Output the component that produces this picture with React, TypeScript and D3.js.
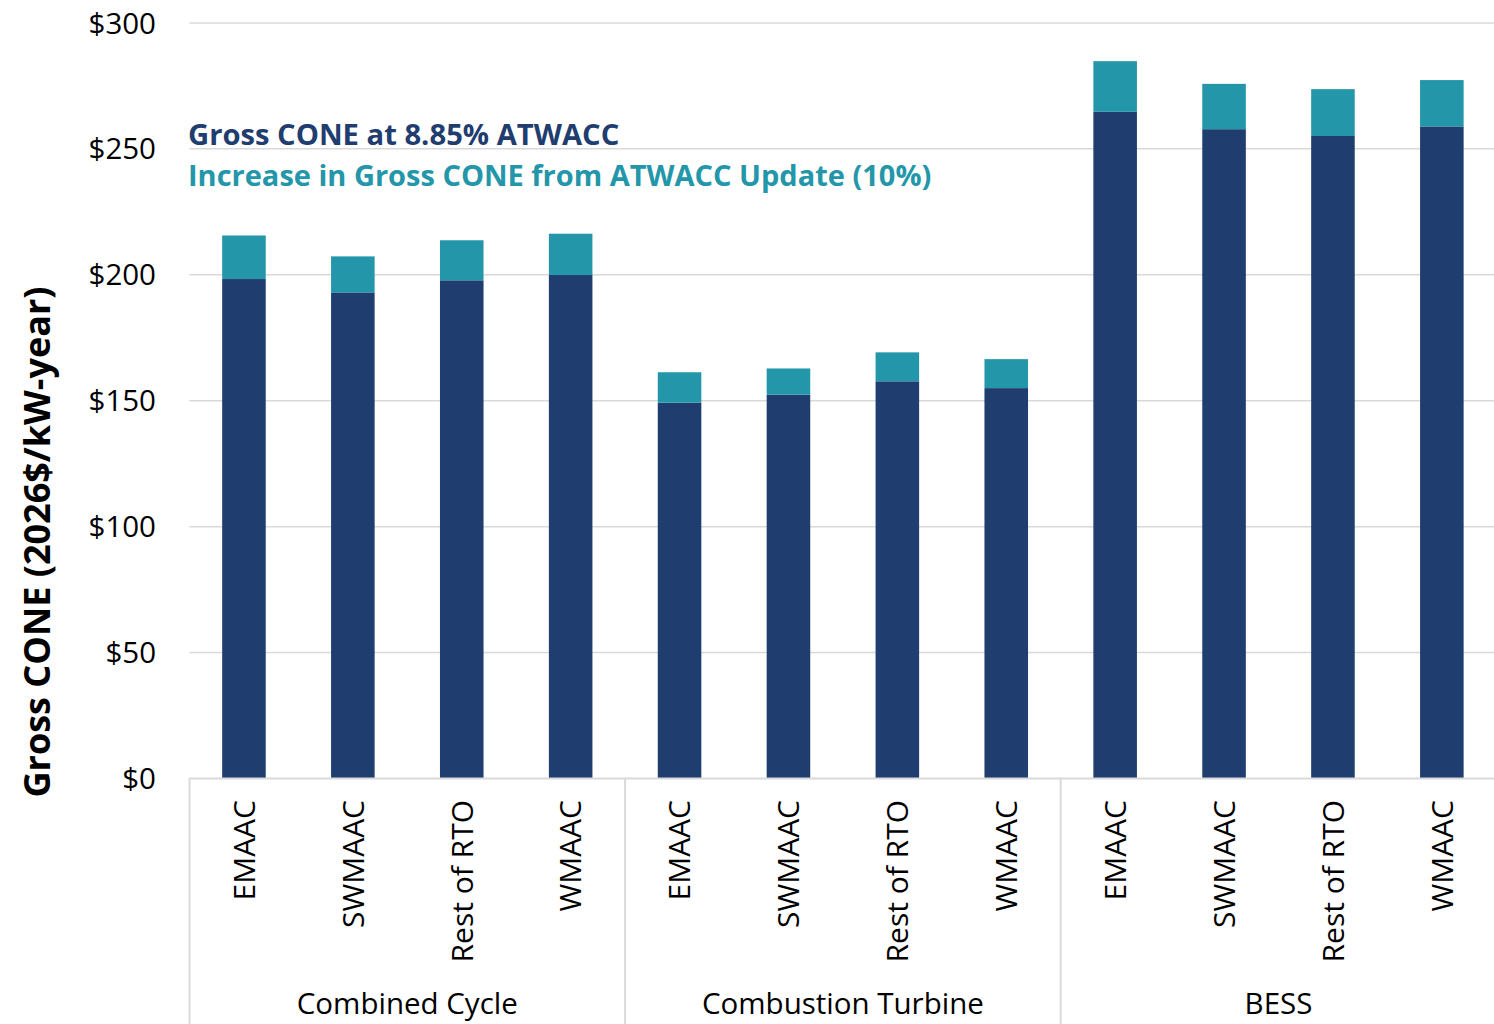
import React from "react";
import * as d3 from "d3";

const groups = ["Combined Cycle", "Combustion Turbine", "BESS"];
const regions = ["EMAAC", "SWMAAC", "Rest of RTO", "WMAAC"];
const baseCone = [198.3, 193.0, 197.8, 199.9, 149.2, 152.4, 157.7, 155.0, 264.7, 257.8, 255.1, 258.9];
const increase = [17.3, 14.3, 15.9, 16.4, 12.1, 10.4, 11.5, 11.5, 20.1, 18.0, 18.6, 18.4];
const yTicks = [0, 50, 100, 150, 200, 250, 300];
const seriesNames = ["Gross CONE at 8.85% ATWACC", "Increase in Gross CONE from ATWACC Update (10%)"];
const yTitle = "Gross CONE (2026$/kW-year)";

const W = 1494;
const H = 1024;
const NAVY = "#1f3d6f";
const TEAL = "#2397a9";
const GRID = "#d9d9d9";
const FONT = "'Open Sans', 'Noto Sans', sans-serif";

export default function App() {
  const left = 189.5;
  const right = 1496.3;
  const y0 = 778.5;
  const yTop = 22.9;

  const keys = groups.flatMap((g) => regions.map((r) => `${g}|${r}`));
  const x = d3.scaleBand<string>().domain(keys).range([left, right]).paddingInner(0.6).paddingOuter(0.3);
  const y = d3.scaleLinear().domain([0, 300]).range([y0, yTop]);
  const step = x.step();

  const data = keys.map((k, i) => ({ key: k, region: k.split("|")[1], base: baseCone[i], inc: increase[i] }));
  const stack = d3.stack<any>().keys(["base", "inc"])(data as any);

  return (
    <svg width={W} height={H} style={{ position: "absolute", left: 0, top: 0, background: "#fff" }} fontFamily={FONT}>
      {yTicks.map((t) => (
        <g key={t}>
          {t > 0 && <line x1={left} x2={W} y1={y(t)} y2={y(t)} stroke={GRID} strokeWidth={1.5} />}
          <text x={156} y={y(t)} dy="0.36em" textAnchor="end" fontSize={29.5} fill="#000">
            {"$" + t}
          </text>
        </g>
      ))}
      {stack.map((layer, li) =>
        layer.map((d: any, i: number) => (
          <rect
            key={`${li}-${i}`}
            x={x(keys[i])}
            width={x.bandwidth()}
            y={y(d[1])}
            height={y(d[0]) - y(d[1])}
            fill={li === 0 ? NAVY : TEAL}
          />
        ))
      )}
      <line x1={left} x2={W} y1={y0} y2={y0} stroke={GRID} strokeWidth={2} />
      {[0, 1, 2, 3].map((gi) => (
        <line key={gi} x1={left + gi * 4 * step} x2={left + gi * 4 * step} y1={y0} y2={H} stroke={GRID} strokeWidth={2} />
      ))}
      {data.map((d) => {
        const cx = (x(d.key) as number) + x.bandwidth() / 2;
        return (
          <text
            key={d.key}
            transform={`translate(${cx},800) rotate(-90)`}
            textAnchor="end"
            dy="0.36em"
            fontSize={30}
            fill="#000"
          >
            {d.region}
          </text>
        );
      })}
      {groups.map((g, gi) => (
        <text key={g} x={left + (gi * 4 + 2) * step} y={1014} textAnchor="middle" fontSize={29.5} fill="#000">
          {g}
        </text>
      ))}
      <text transform={`translate(37,542) rotate(-90)`} textAnchor="middle" dy="0.36em" fontSize={36} fontWeight="bold" fill="#000">
        {yTitle}
      </text>
      <text x={188} y={145} fontSize={29.2} fontWeight="bold" fill={NAVY}>
        {seriesNames[0]}
      </text>
      <text x={188} y={186} fontSize={29} fontWeight="bold" fill={TEAL}>
        {seriesNames[1]}
      </text>
    </svg>
  );
}
